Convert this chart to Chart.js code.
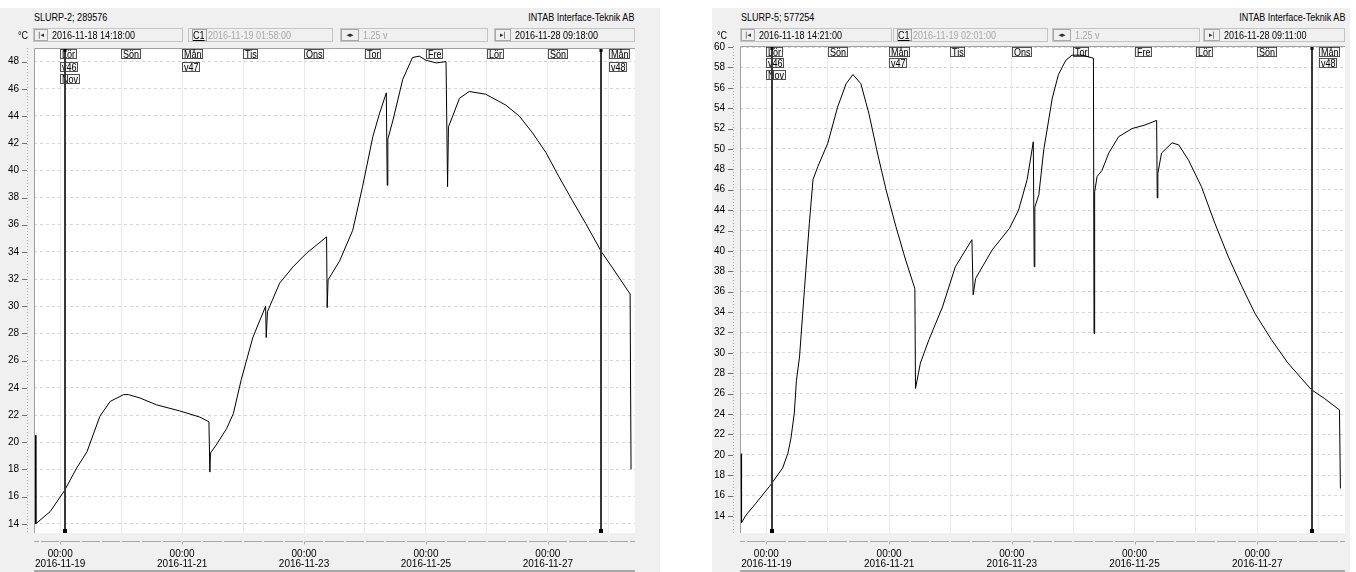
<!DOCTYPE html>
<html>
<head>
<meta charset="utf-8">
<title>SLURP-2 / SLURP-5</title>
<script src="https://cdn.jsdelivr.net/npm/chart.js@4.4.1/dist/chart.umd.min.js"></script>
<style>
  html, body { margin: 0; padding: 0; background: #fff; }
  body { width: 1356px; height: 572px; position: relative; overflow: hidden;
         font: 11px "Liberation Sans", Arial, sans-serif; color: #000; }
  .panel { position: absolute; top: 8px; height: 564px; background: #f0f0f0; }
  .panel canvas { position: absolute; left: 0; top: 32px; }
  .hd { position: absolute; line-height: 12px; white-space: nowrap; z-index: 2; }
  .tb { position: absolute; top: 20px; height: 12px; border: 1px solid #c4c4c4; line-height: 12px;
        white-space: nowrap; overflow: hidden; z-index: 2; }
  .n { display: inline-block; transform: scaleX(0.82); transform-origin: 0 50%; vertical-align: top; }
  .hd.r .n { transform-origin: 100% 50%; }
  .ic { display: inline-block; height: 10px; border: 1px solid #a8a8a8; font-size: 7px; line-height: 10px;
        text-align: center; vertical-align: top; margin-right: 4px; color: #333; font-family: "DejaVu Sans", sans-serif; }
  .dim { color: #a8a8a8; }
  .c1 { display: inline-block; border: 1px solid #a0a0a0; height: 10px; line-height: 10px; margin: 0 1px 0 3px;
        width: 13px; text-align: center; vertical-align: top; }
  .c1 span { text-decoration: underline; }
</style>
</head>
<body>

<div class="panel" style="left:0;width:660px">
  <div class="hd" style="left:34px;top:3px"><span class="n">SLURP-2; 289576</span></div>
  <div class="hd r" style="right:26px;top:3px"><span class="n">INTAB Interface-Teknik AB</span></div>
  <div class="hd" style="left:18px;top:21px"><span class="n">°C</span></div>
  <div class="tb" style="left:33px;width:148px"><span class="ic" style="width:12px">|◂</span><span class="n">2016-11-18 14:18:00</span></div>
  <div class="tb" style="left:188px;width:143px"><span class="c1"><span class="n">C1</span></span><span class="n dim">2016-11-19 01:58:00</span></div>
  <div class="tb" style="left:340px;width:146px"><span class="ic" style="width:16px">◂▸</span><span class="n dim">1.25 v</span></div>
  <div class="tb" style="left:494px;width:139px"><span class="ic" style="width:14px">▸|</span><span class="n">2016-11-28 09:18:00</span></div>
  <canvas id="chartLeft" width="660" height="532"></canvas>
</div>

<div class="panel" style="left:712px;width:638px">
  <div class="hd" style="left:29px;top:3px"><span class="n">SLURP-5; 577254</span></div>
  <div class="hd r" style="right:5px;top:3px"><span class="n">INTAB Interface-Teknik AB</span></div>
  <div class="hd" style="left:5px;top:21px"><span class="n">°C</span></div>
  <div class="tb" style="left:28px;width:150px"><span class="ic" style="width:12px">|◂</span><span class="n">2016-11-18 14:21:00</span></div>
  <div class="tb" style="left:181px;width:153px"><span class="c1"><span class="n">C1</span></span><span class="n dim">2016-11-19 02:01:00</span></div>
  <div class="tb" style="left:340px;width:146px"><span class="ic" style="width:16px">◂▸</span><span class="n dim">1.25 v</span></div>
  <div class="tb" style="left:491px;width:140px"><span class="ic" style="width:14px">▸|</span><span class="n">2016-11-28 09:11:00</span></div>
  <canvas id="chartRight" width="638" height="532"></canvas>
</div>

<script>
// x values are days after 2016-11-19 00:00
const dayTicks = [0, 1, 2, 3, 4, 5, 6, 7, 8, 9];
const dayNames = ["Lör", "Sön", "Mån", "Tis", "Ons", "Tor", "Fre", "Lör", "Sön", "Mån"];
const weekNames = ["v46", "", "v47", "", "", "", "", "", "", "v48"];
const monthNames = ["Nov", "", "", "", "", "", "", "", "", ""];
const dateLabels = ["2016-11-19", "", "2016-11-21", "", "2016-11-23", "", "2016-11-25", "", "2016-11-27", ""];

const leftTicks = [14, 16, 18, 20, 22, 24, 26, 28, 30, 32, 34, 36, 38, 40, 42, 44, 46, 48];
const rightTicks = [14, 16, 18, 20, 22, 24, 26, 28, 30, 32, 34, 36, 38, 40, 42, 44, 46, 48, 50, 52, 54, 56, 58, 60];

// SLURP-2
const leftTime = [-0.404, -0.40, -0.164, 0.065, 0.27, 0.44, 0.65, 0.82, 1.04, 1.12, 1.31, 1.58, 1.96, 2.29,
  2.44, 2.455, 2.465, 2.56, 2.73, 2.84, 2.97, 3.16, 3.37, 3.38, 3.40, 3.60, 3.82, 4.04, 4.37, 4.38, 4.395,
  4.58, 4.80, 4.96, 5.13, 5.24, 5.35, 5.365, 5.375, 5.46, 5.62, 5.78, 5.89, 6.00, 6.17, 6.33, 6.355, 6.37,
  6.44, 6.55, 6.71, 6.98, 7.31, 7.53, 7.75, 7.97, 8.18, 8.40, 8.62, 8.88, 9.05, 9.35, 9.365];
const leftTemp = [20.5, 14.0, 14.9, 16.4, 18.1, 19.3, 21.9, 23.0, 23.5, 23.5, 23.25, 22.75, 22.3, 21.85,
  21.5, 17.8, 19.2, 19.8, 21.0, 22.1, 24.6, 27.7, 30.0, 27.7, 29.6, 31.7, 32.9, 33.9, 35.1, 29.9, 31.95,
  33.3, 35.6, 38.8, 42.5, 44.2, 45.7, 38.9, 42.3, 43.7, 46.7, 48.3, 48.4, 48.1, 47.9, 48.0, 38.8, 43.2,
  44.0, 45.3, 45.8, 45.6, 44.8, 44.0, 42.75, 41.3, 39.55, 37.8, 36.1, 34.0, 32.9, 30.9, 18.0];
const leftCursors = [0.082, 8.88];

// SLURP-5
const rightTime = [-0.41, -0.405, -0.33, -0.17, 0.05, 0.265, 0.35, 0.40, 0.455, 0.49, 0.54, 0.62, 0.70,
  0.76, 0.84, 1.00, 1.16, 1.30, 1.41, 1.54, 1.67, 1.81, 1.95, 2.11, 2.27, 2.42, 2.43, 2.51, 2.65, 2.87,
  3.08, 3.35, 3.37, 3.41, 3.68, 3.96, 4.11, 4.25, 4.35, 4.365, 4.375, 4.44, 4.52, 4.66, 4.76, 4.88, 4.98,
  5.15, 5.33, 5.34, 5.35, 5.39, 5.47, 5.58, 5.74, 5.96, 6.17, 6.36, 6.37, 6.38, 6.44, 6.61, 6.72, 6.88,
  7.09, 7.31, 7.53, 7.75, 7.96, 8.23, 8.50, 8.88, 9.10, 9.34, 9.355];
const rightTemp = [20.1, 13.35, 14.1, 15.25, 16.9, 18.7, 20.15, 21.6, 24.1, 27.3, 29.6, 36.2, 42.7,
  47.0, 48.3, 50.55, 54.1, 56.4, 57.3, 56.4, 53.5, 49.6, 46.0, 42.4, 39.1, 36.3, 26.5, 29.0, 31.3, 34.5,
  38.45, 41.1, 35.7, 37.3, 40.1, 42.2, 44.0, 47.0, 50.7, 38.45, 44.3, 45.5, 49.9, 55.0, 57.3, 58.7, 59.2,
  59.2, 58.9, 31.9, 45.8, 47.3, 47.9, 49.6, 51.2, 52.0, 52.35, 52.8, 45.2, 47.6, 49.6, 50.6, 50.4, 48.9,
  46.3, 42.7, 39.4, 36.5, 33.9, 31.3, 29.0, 26.4, 25.5, 24.4, 16.7];
const rightCursors = [0.084, 8.89];

const FONT = '"Liberation Sans", Arial, sans-serif';
Chart.defaults.font.family = FONT;
Chart.defaults.font.size = 10;
Chart.defaults.color = "#000";

// text squeezed a bit, the logger program uses a narrow bitmap font
function narrowText(ctx, t, x, y) {
  ctx.save();
  ctx.translate(x, y);
  ctx.scale(0.82, 1);
  ctx.fillText(t, 0, 0);
  ctx.restore();
}

// day boxes, cursors and the little axis decorations of the logger program
function decorPlugin(cfg) {
  return {
    id: "decor",
    beforeDraw(chart) {
      const { ctx, chartArea: a } = chart;
      ctx.save();
      ctx.fillStyle = "#fff";
      ctx.fillRect(a.left, a.top, a.right - a.left, a.bottom - a.top);
      ctx.restore();
    },
    beforeDatasetsDraw(chart) {
      const { ctx, chartArea: a, scales: { x } } = chart;
      ctx.save();
      ctx.strokeStyle = "#a0a0a0";
      ctx.lineWidth = 1;
      ctx.beginPath();
      ctx.moveTo(a.left + 0.5, a.bottom);
      ctx.lineTo(a.left + 0.5, a.top + 0.5);
      ctx.lineTo(a.right, a.top + 0.5);
      ctx.stroke();

      ctx.font = "11px " + FONT;
      ctx.textBaseline = "middle";
      ctx.textAlign = "left";
      const rows = [dayNames, weekNames, monthNames];
      dayTicks.forEach((d, i) => {
        const px = Math.round(x.getPixelForValue(d));
        rows.forEach((row, r) => {
          const t = row[i];
          if (!t) return;
          const w = Math.ceil(ctx.measureText(t).width * 0.82) + 3;
          const y = Math.round(a.top + 1 + r * cfg.rowGap);
          ctx.fillStyle = "#f4f4f4";
          ctx.fillRect(px, y, w, cfg.boxH);
          ctx.strokeStyle = "#505050";
          ctx.strokeRect(px + 0.5, y + 0.5, w - 1, cfg.boxH - 1);
          ctx.fillStyle = "#000";
          narrowText(ctx, t, px + 2, y + cfg.boxH / 2 + 0.5);
        });
      });
      ctx.restore();
    },
    afterDatasetsDraw(chart) {
      const { ctx, chartArea: a, scales: { x } } = chart;
      ctx.save();
      cfg.cursors.forEach((c) => {
        const px = Math.round(x.getPixelForValue(c));
        ctx.strokeStyle = "#383838";
        ctx.lineWidth = 2;
        ctx.beginPath();
        ctx.moveTo(px, a.top + 1);
        ctx.lineTo(px, a.bottom - 2);
        ctx.stroke();
        ctx.fillStyle = "#000";
        ctx.fillRect(px - 2, a.bottom - 4, 4, 4);
        ctx.fillRect(px - 1.5, a.top + 1, 3, 3);
      });
      ctx.restore();
    },
    afterDraw(chart) {
      const { ctx, chartArea: a, scales: { x, y } } = chart;
      ctx.save();
      // y major ticks + dotted minor line
      ctx.strokeStyle = "#707070";
      ctx.lineWidth = 1;
      y.ticks.forEach((t) => {
        const py = Math.round(y.getPixelForValue(t.value)) + 0.5;
        ctx.beginPath();
        ctx.moveTo(a.left - 12, py);
        ctx.lineTo(a.left - 7, py);
        ctx.stroke();
      });
      ctx.strokeStyle = "#b0b0b0";
      ctx.setLineDash([1, 2]);
      ctx.beginPath();
      ctx.moveTo(a.left - 6.5, a.top);
      ctx.lineTo(a.left - 6.5, a.bottom);
      ctx.stroke();
      ctx.setLineDash([]);

      // time axis line, split every 8 hours
      const ay = a.bottom + 8.5;
      ctx.strokeStyle = "#a8a8a8";
      let prev = a.left;
      for (let k = Math.ceil(x.min * 3); k / 3 <= x.max; k++) {
        const px = Math.round(x.getPixelForValue(k / 3));
        ctx.beginPath();
        ctx.moveTo(prev, ay);
        ctx.lineTo(px - 1, ay);
        ctx.stroke();
        if (k % 6 === 0) {
          ctx.beginPath();
          ctx.moveTo(px + 0.5, ay);
          ctx.lineTo(px + 0.5, ay + 3);
          ctx.stroke();
        }
        prev = px + 1;
      }
      ctx.beginPath();
      ctx.moveTo(prev, ay);
      ctx.lineTo(a.right, ay);
      ctx.stroke();

      // scroll bar edge at the bottom
      ctx.lineWidth = 2;
      ctx.strokeStyle = "#a8a8a8";
      ctx.beginPath();
      ctx.moveTo(a.left, chart.height - 1);
      ctx.lineTo(a.right, chart.height - 1);
      ctx.stroke();
      ctx.restore();
    },
  };
}

function makeChart(canvasId, times, temps, yTicks, cfg) {
  return new Chart(document.getElementById(canvasId), {
    type: "line",
    data: {
      datasets: [{
        data: times.map((t, i) => ({ x: t, y: temps[i] })),
        borderColor: "#000",
        borderWidth: 1,
        pointRadius: 0,
        pointHoverRadius: 0,
        tension: 0,
        fill: false,
      }],
    },
    options: {
      responsive: false,
      animation: false,
      devicePixelRatio: 1,
      events: [],
      layout: { autoPadding: false, padding: { top: cfg.padTop, right: cfg.padRight, left: 0, bottom: 0 } },
      plugins: { legend: { display: false }, tooltip: { enabled: false } },
      scales: {
        x: {
          type: "linear",
          min: -0.43,
          max: 9.43,
          afterBuildTicks: (s) => { s.ticks = dayTicks.map((v) => ({ value: v })); },
          afterFit: (s) => { s.height = 39; },
          grid: { color: "#ebebeb", drawTicks: true, tickLength: 15, tickColor: "rgba(0,0,0,0)" },
          border: { display: false, dash: [] },
          ticks: {
            autoSkip: false,
            maxRotation: 0,
            minRotation: 0,
            padding: 1,
            font: { size: 10, lineHeight: "10px" },
            callback: (v) => (dateLabels[v] ? ["00:00", dateLabels[v]] : ""),
          },
        },
        y: {
          type: "linear",
          min: cfg.yMin,
          max: cfg.yMax,
          afterBuildTicks: (s) => { s.ticks = yTicks.map((v) => ({ value: v })); },
          afterFit: (s) => { s.width = cfg.yWidth; },
          grid: { color: "#d6d6d6", drawTicks: true, tickLength: 15, tickColor: "rgba(0,0,0,0)" },
          border: { display: false, dash: [3, 3] },
          ticks: { padding: 0, font: { size: 10 } },
        },
      },
    },
    plugins: [decorPlugin(cfg)],
  });
}

makeChart("chartLeft", leftTime, leftTemp, leftTicks, {
  padTop: 8, padRight: 25, yWidth: 34, yMin: 13.32, yMax: 49.0,
  rowGap: 12.5, boxH: 10, cursors: leftCursors,
});
makeChart("chartRight", rightTime, rightTemp, rightTicks, {
  padTop: 6, padRight: 5, yWidth: 28, yMin: 12.33, yMax: 60.1,
  rowGap: 11.3, boxH: 10, cursors: rightCursors,
});
</script>
</body>
</html>
